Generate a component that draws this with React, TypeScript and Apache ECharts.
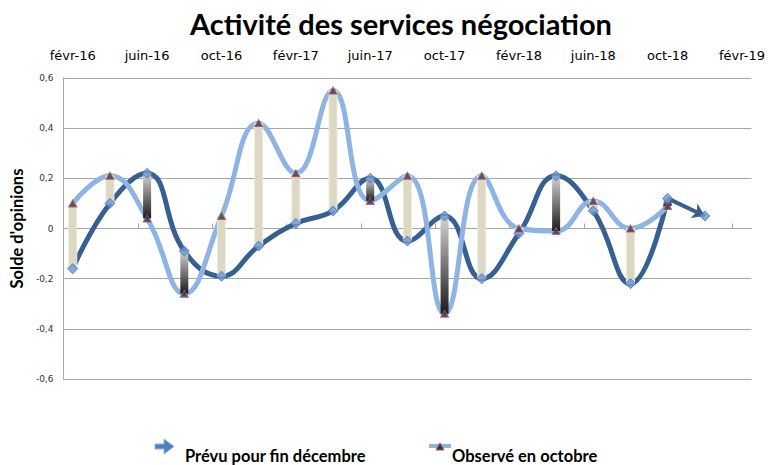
import React, { useEffect, useRef } from "react";
import * as echarts from "echarts";

// ---- Data ----
const months = [
  "févr-16", "avr-16", "juin-16", "août-16", "oct-16", "déc-16",
  "févr-17", "avr-17", "juin-17", "août-17", "oct-17", "déc-17",
  "févr-18", "avr-18", "juin-18", "août-18", "oct-18", "déc-18",
];
const prevu: (number | null)[] = [
  -0.16, 0.1, 0.22, -0.09, -0.19, -0.07,
  0.02, 0.07, 0.2, -0.05, 0.05, -0.2,
  -0.02, 0.21, 0.07, -0.22, 0.12, 0.05,
];
const observe: (number | null)[] = [
  0.1, 0.21, 0.04, -0.26, 0.05, 0.42,
  0.22, 0.55, 0.11, 0.21, -0.34, 0.21,
  0.0, -0.01, 0.11, 0.0, 0.09, null,
];
const topLabels = [
  "févr-16", "juin-16", "oct-16", "févr-17", "juin-17",
  "oct-17", "févr-18", "juin-18", "oct-18", "févr-19",
];
const yTicks = [-0.6, -0.4, -0.2, 0, 0.2, 0.4, 0.6];

const TITLE = "Activité des services négociation";
const Y_NAME = "Solde d'opinions";
const NAME_PREVU = "Prévu pour fin décembre";
const NAME_OBS = "Observé en octobre";

const FR = ["janv", "févr", "mars", "avr", "mai", "juin", "juil", "août", "sept", "oct", "nov", "déc"];
// position on the month axis: févr-16 centred at 0.5
function monthPos(label: string): number {
  const [m, y] = label.split("-");
  return (parseInt(y, 10) - 16) * 12 + FR.indexOf(m) - 1 + 0.5;
}

const DARK = "#366092";
const LIGHT = "#8db4e2";
const GRID = "#a6a6a6";

export default function App() {
  const ref = useRef<HTMLDivElement>(null);
  useEffect(() => {
    if (!ref.current) return;
    const chart = echarts.init(ref.current, null, { renderer: "svg" });

    const xs = months.map(monthPos);
    const xMax = monthPos("févr-19") + 0.5;
    const lastPrevuIdx = prevu.length - 1;
    const prevuLine = xs
      .map((x, i) => [x, prevu[i]])
      .filter((d, i) => d[1] !== null && i < lastPrevuIdx);
    const prevuPts = xs.map((x, i) => [x, prevu[i]]).filter((d) => d[1] !== null);
    const obsPts = xs.map((x, i) => [x, observe[i]]).filter((d) => d[1] !== null);
    const bars = xs
      .map((x, i) => [x, prevu[i], observe[i]])
      .filter((d) => d[1] !== null && d[2] !== null);

    const darkGrad = new echarts.graphic.LinearGradient(0, 0, 0, 1, [
      { offset: 0, color: "#d4d4d4" },
      { offset: 1, color: "#1a1a1a" },
    ]);

    const option: any = {
      animation: false,
      backgroundColor: "#ffffff",
      title: {
        text: TITLE,
        left: 396,
        textAlign: "center",
        top: 4,
        textStyle: { fontFamily: "Lato", fontWeight: "bold", fontSize: 29, color: "#000" },
      },
      grid: { left: 61, right: 16, top: 78, bottom: 86 },
      xAxis: [
        {
          type: "value",
          min: 0,
          max: xMax,
          axisLine: { show: true, onZero: true, lineStyle: { color: GRID, width: 1 } },
          axisTick: {
            show: true,
            inside: true,
            length: 5,
            customValues: topLabels.map((l) => monthPos(l) - 0.5),
            lineStyle: { color: GRID },
          },
          axisLabel: { show: false },
          splitLine: { show: false },
        },
        {
          type: "value",
          position: "top",
          min: 0,
          max: xMax,
          axisLine: { show: false, onZero: false },
          axisTick: { show: false },
          splitLine: { show: false },
          axisLabel: {
            show: true,
            margin: 16,
            customValues: topLabels.map(monthPos),
            formatter: (v: number) => {
              const idx = topLabels.findIndex((l) => Math.abs(monthPos(l) - v) < 0.01);
              return idx >= 0 ? topLabels[idx] : "";
            },
            fontFamily: "DejaVu Sans",
            fontSize: 13,
            color: "#000",
          },
        },
      ],
      yAxis: {
        type: "value",
        min: yTicks[0],
        max: yTicks[yTicks.length - 1],
        interval: 0.2,
        name: Y_NAME,
        nameLocation: "middle",
        nameRotate: 90,
        nameGap: 35,
        nameTextStyle: { fontFamily: "Lato", fontWeight: "bold", fontSize: 16.5, color: "#000" },
        axisLine: { show: true, lineStyle: { color: GRID, width: 1 } },
        axisTick: { show: false },
        splitLine: { show: true, lineStyle: { color: GRID, width: 1 } },
        axisLabel: {
          margin: 10,
          fontFamily: "DejaVu Sans",
          fontSize: 9,
          color: "#333",
          formatter: (v: number) => {
            const r = Math.round(v * 10) / 10;
            return r === 0 ? "0" : r.toFixed(1).replace(".", ",");
          },
        },
      },
      series: [
        {
          name: NAME_PREVU,
          type: "line",
          xAxisIndex: 0,
          data: prevuLine,
          smooth: 0.45,
          showSymbol: false,
          lineStyle: { color: DARK, width: 5 },
          z: 2,
          markLine: {
            silent: true,
            symbol: ["none", "arrow"],
            symbolSize: [12, 12],
            label: { show: false },
            lineStyle: { color: DARK, width: 4, type: "solid" },
            data: [
              [
                { coord: [xs[lastPrevuIdx - 1], prevu[lastPrevuIdx - 1]] },
                { coord: [xs[lastPrevuIdx], prevu[lastPrevuIdx]] },
              ],
            ],
          },
        },
        {
          name: NAME_OBS,
          type: "line",
          xAxisIndex: 0,
          data: obsPts,
          smooth: 0.45,
          showSymbol: false,
          lineStyle: { color: LIGHT, width: 5 },
          z: 3,
        },
        {
          type: "custom",
          xAxisIndex: 0,
          data: bars,
          z: 4,
          renderItem: (params: any, api: any) => {
            const x = api.value(0);
            const p = api.value(1);
            const o = api.value(2);
            const a = api.coord([x, p]);
            const b = api.coord([x, o]);
            const w = 8;
            const up = o > p;
            return {
              type: "rect",
              shape: { x: a[0] - w / 2, y: Math.min(a[1], b[1]), width: w, height: Math.abs(a[1] - b[1]) },
              style: up
                ? { fill: "#dcd8c4", stroke: "#ebe8dc", lineWidth: 1 }
                : { fill: darkGrad },
            };
          },
        },
        {
          type: "scatter",
          xAxisIndex: 0,
          data: prevuPts,
          symbol: "diamond",
          symbolSize: [10, 10],
          itemStyle: { color: "#6a9ad6", borderColor: "#3f6fa8", borderWidth: 1 },
          z: 5,
        },
        {
          type: "scatter",
          xAxisIndex: 0,
          data: obsPts,
          symbol: "triangle",
          symbolSize: [8, 7],
          itemStyle: { color: "#1f3864", borderColor: "#c0504d", borderWidth: 1 },
          z: 6,
        },
      ],
      graphic: [
        {
          type: "polygon",
          shape: {
            points: [
              [155, 444], [164, 444], [164, 439], [174, 446.5], [164, 454], [164, 449], [155, 449],
            ],
          },
          style: { fill: "#4f81bd", stroke: "#8db4e2", lineWidth: 1 },
        },
        {
          type: "text",
          left: 185,
          top: 447,
          style: { text: NAME_PREVU, fontFamily: "Lato", fontWeight: "bold", fontSize: 16.5, fill: "#000" },
        },
        {
          type: "line",
          shape: { x1: 429, y1: 446, x2: 451, y2: 446 },
          style: { stroke: LIGHT, lineWidth: 4 },
        },
        {
          type: "polygon",
          shape: { points: [[440, 443], [444, 450], [436, 450]] },
          style: { fill: "#1f3864", stroke: "#c0504d", lineWidth: 1 },
        },
        {
          type: "text",
          left: 452,
          top: 447,
          style: { text: NAME_OBS, fontFamily: "Lato", fontWeight: "bold", fontSize: 16.5, fill: "#000" },
        },
      ],
    };

    chart.setOption(option);
    return () => chart.dispose();
  }, []);

  return <div ref={ref} style={{ width: 768, height: 465, position: "absolute", left: 0, top: 0 }} />;
}
